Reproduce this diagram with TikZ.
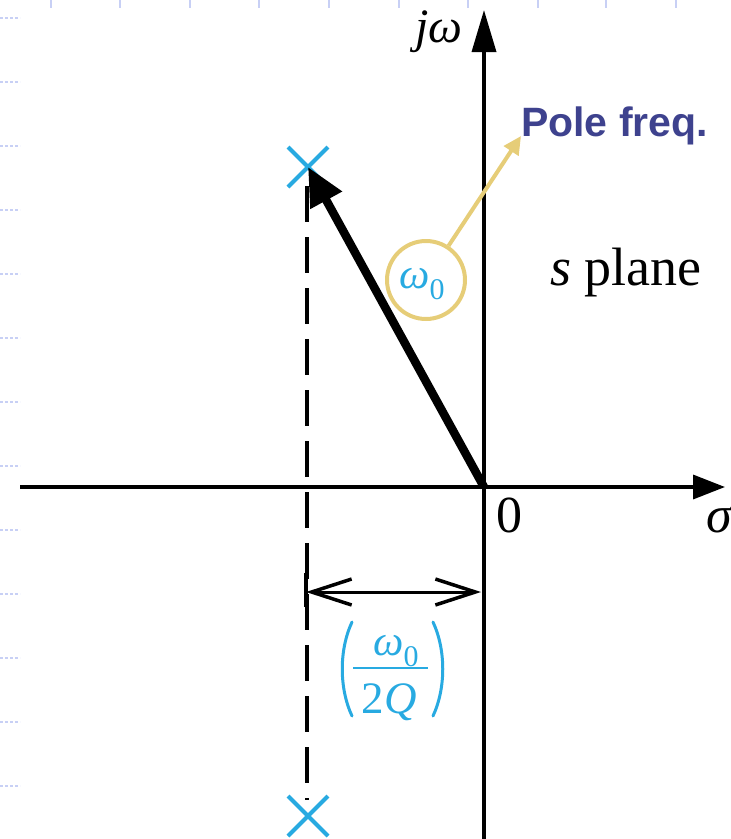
\documentclass[tikz,border=0pt]{standalone}
\usepackage{fontspec}
\setmainfont{Liberation Serif}
\newfontfamily\polefont{Liberation Sans}
\usetikzlibrary{arrows.meta,shapes.misc}
\definecolor{cy}{RGB}{40,170,225}
\definecolor{yel}{RGB}{230,205,120}
\definecolor{navy}{RGB}{62,66,142}
\definecolor{faint}{RGB}{200,208,245}
\begin{document}
\begin{tikzpicture}[x=1pt,y=-1pt,
  axis/.style={line width=3.5pt},
  polemark/.style={cross out,draw=cy,line width=4pt,minimum size=36pt,inner sep=0pt},
  lbl/.style={inner sep=0pt,font=\fontsize{52}{60}\selectfont},
  cylbl/.style={inner sep=0pt,text=cy,font=\fontsize{43}{50}\selectfont},
  dashline/.style={line width=3.2pt,dash pattern=on 36pt off 15pt},
  dim/.style={line width=3pt,{Straight Barb[length=40pt,width=26pt,line width=3.5pt]}-{Straight Barb[length=40pt,width=26pt,line width=3.5pt]}},
  paren/.style={cy,line width=3pt,line cap=round},
  bgmark/.style={faint,line width=1.5pt,dash pattern=on 3pt off 2pt}]
\useasboundingbox (0,0) rectangle (731,839);
% faint background marks
\foreach \yy in {18,82,146,210,274,338,402,466,530,594,658,722,786}
  \draw[bgmark] (0,\yy) -- (20,\yy);
\foreach \xx in {51,120,190,259,329,399,468,538,606,676}
  \draw[faint,line width=1.2pt] (\xx,0) -- (\xx,8);
% axes
\coordinate (O) at (484,487);
\coordinate (xl) at (20,487);
\coordinate (xr) at (725,487);
\coordinate (yb) at (484,839);
\coordinate (yt) at (484,10);
\draw[axis,-{Triangle[length=32pt,width=24pt]}] (xl) -- (xr);
\draw[axis,-{Triangle[length=42pt,width=24pt]}] (yb) -- (yt);
% axis labels
\node[lbl,anchor=base east,font=\fontsize{48}{56}\selectfont\itshape] (jw) at (463,42) {jω};
\node[lbl,anchor=base west] (zero) at (496,532) {0};
\node[lbl,anchor=base west,font=\fontsize{52}{60}\selectfont\itshape] (sig) at (706,532) {σ};
\node[lbl,anchor=base west,font=\fontsize{54}{62}\selectfont] (splane) at (550,285) {\textit{s} plane};
% poles
\node[polemark] (p1) at (308,167) {};
\node[polemark] (p2) at (308,816) {};
\coordinate (d1) at (307,186);
\coordinate (d2) at (307,800);
\draw[dashline] (d1) -- (d2);
% vector to pole
\draw[line width=8.5pt,-{Triangle[length=38pt,width=34pt]}] (O) -- (p1.center);
% omega_0 label with circle
\node[cylbl] (w0) at (422,284) {\textit{ω}\raisebox{-0.27em}{\fontsize{30}{34}\selectfont 0}};
\node[circle,draw=yel,line width=4pt,minimum size=78pt,inner sep=0pt] (c) at (426,280) {};
\node[inner sep=0pt,anchor=base west,text=navy,font=\polefont\bfseries\fontsize{41}{48}\selectfont] (pf) at (521,136) {Pole freq.};
\draw[yel,line width=4pt,-{Triangle[length=18pt,width=17pt]}] (c) -- (pf.base west);
% dimension arrow
\coordinate (bt) at (306,573);
\coordinate (bb) at (306,607);
\draw[line width=4pt] (bt) -- (bb);
\coordinate (da1) at (306,592);
\coordinate (da2) at (481,592);
\draw[dim] (da1) -- (da2);
% fraction label
\node[cylbl,anchor=base] (num) at (396,655) {\textit{ω}\raisebox{-0.27em}{\fontsize{30}{34}\selectfont 0}};
\coordinate (fb1) at (353,668);
\coordinate (fb2) at (428,668);
\draw[cy,line width=2.5pt] (fb1) -- (fb2);
\node[cylbl,anchor=base,font=\fontsize{45}{50}\selectfont] (den) at (389,713) {2\textit{Q}};
\coordinate (lp1) at (352,622);
\coordinate (lp2) at (352,716);
\coordinate (rp1) at (433,622);
\coordinate (rp2) at (433,716);
\draw[paren] (lp1) .. controls (339,650) and (339,688) .. (lp2);
\draw[paren] (rp1) .. controls (446,650) and (446,688) .. (rp2);
\end{tikzpicture}
\end{document}
